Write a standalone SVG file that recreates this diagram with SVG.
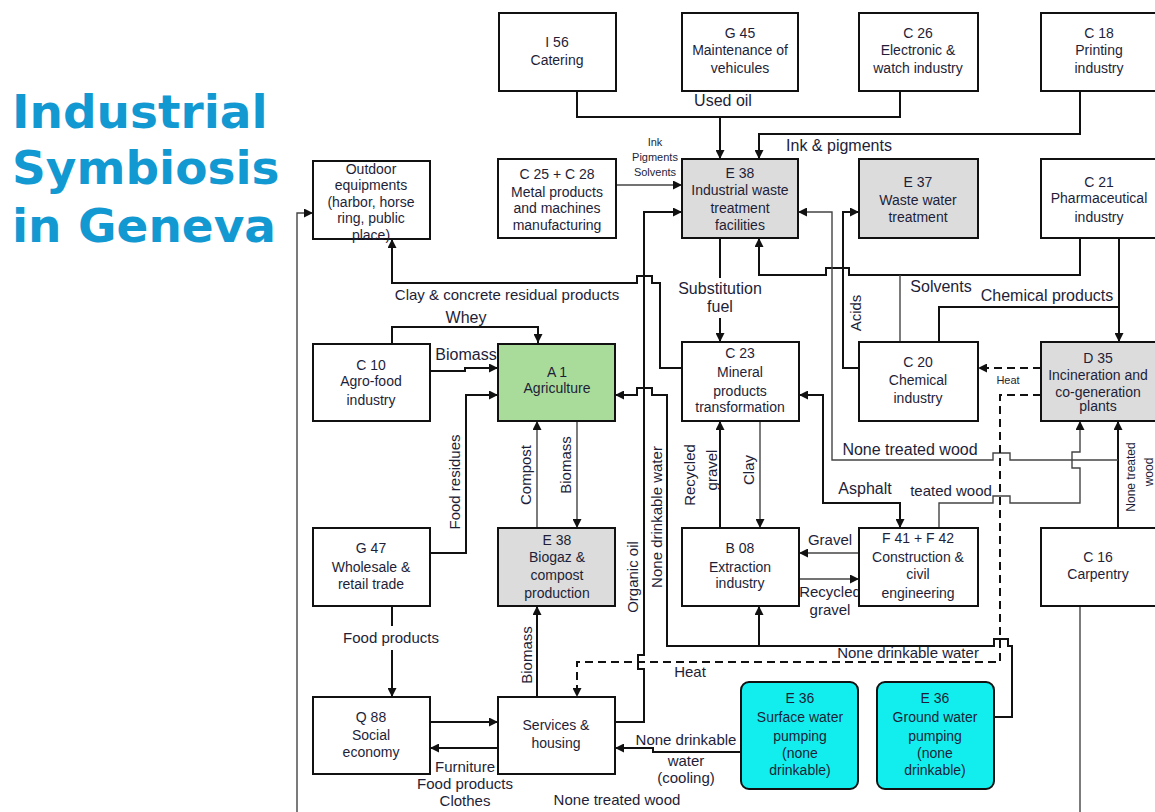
<svg xmlns="http://www.w3.org/2000/svg" width="1155" height="812" viewBox="0 0 1155 812">
<style>
  .box { fill: #fff; stroke: #111; stroke-width: 2; }
  .grey { fill: #dcdcdc; }
  .green { fill: #a9dc9a; }
  .cyan { fill: #12eeee; }
  .nt { font-family: "Liberation Sans", Arial, sans-serif; font-size: 14px; fill: #1e1e38; text-anchor: middle; }
  .lb { font-family: "Liberation Sans", Arial, sans-serif; font-size: 16px; fill: #1e1e38; text-anchor: middle; }
  .lm { font-family: "Liberation Sans", Arial, sans-serif; font-size: 15px; fill: #1e1e38; text-anchor: middle; }
  .ls { font-family: "Liberation Sans", Arial, sans-serif; font-size: 11px; fill: #1e1e38; text-anchor: middle; }
  .w { fill: none; stroke: #111; stroke-width: 2; }
  .t { fill: none; stroke: #444; stroke-width: 1.4; }
  .d { fill: none; stroke: #111; stroke-width: 2; stroke-dasharray: 8 5; }
  .arr { marker-end: url(#ah); }
  .title { font-family: "DejaVu Sans", Verdana, sans-serif; font-weight: bold; font-size: 47px; fill: #1299d2; }
</style>
<defs>
  <marker id="ah" viewBox="0 0 10 10" refX="10" refY="5" markerWidth="11" markerHeight="9" markerUnits="userSpaceOnUse" orient="auto-start-reverse">
    <path d="M0,0 L10,5 L0,10 z" fill="#111"/>
  </marker>
</defs>
<rect width="1155" height="812" fill="#fff"/>

<!-- heading -->
<g id="title">
  <text class="title" x="12" y="128">Industrial</text>
  <text class="title" x="12" y="184">Symbiosis</text>
  <text class="title" x="12" y="242">in Geneva</text>
</g>

<!-- flows between activities -->
<g id="connectors">
  <!-- used oil collector -->
  <path class="w" d="M577,91 V117 H900 V91"/>
  <path class="w arr" d="M720,117 V159"/>
  <!-- ink & pigments -->
  <path class="w arr" d="M1080,91 V134 H759 V159"/>
  <!-- ink / pigments / solvents -->
  <path class="t arr" d="M616,185 H682"/>
  <!-- organic oil -->
  <path class="w arr" d="M615,722 H644 V669 H638 V655 H644 V212 H682"/>
  <!-- clay & concrete residual products -->
  <path class="w arr" d="M682,368 H660 V283 H652 V276 H637 V283 H392 V239"/>
  <!-- substitution fuel -->
  <path class="w" d="M720,238 V278"/>
  <path class="w arr" d="M720,318 V342"/>
  <!-- solvents -->
  <path class="w arr" d="M1080,238 V275 H849 V268 H826 V275 H759 V238"/>
  <path class="t" d="M900,342 V275"/>
  <!-- chemical products -->
  <path class="w" d="M939,342 V307 H1119"/>
  <path class="w arr" d="M1119,238 V342"/>
  <!-- acids -->
  <path class="w arr" d="M859,368 H843 V212 H859"/>
  <!-- none treated wood -->
  <path class="w arr" d="M1118,528 V421"/>
  <path class="t arr" d="M1118,460 H1010 V453 H993 V460 H832 V212 H798"/>
  <!-- treated wood -->
  <path class="t arr" d="M939,528 V503 H993 V496 H1010 V503 H1080 V468 H1072 V452 H1080 V421"/>
  <!-- asphalt -->
  <path class="w" d="M799,395 H823 V503 H900 V528" marker-start="url(#ah)" marker-end="url(#ah)"/>
  <!-- heat -->
  <path class="d arr" d="M1041,368 H978"/>
  <path class="d arr" d="M1041,395 H1000 V662 H577 V697"/>
  <!-- none drinkable water -->
  <path class="w arr" d="M994,717 H1012 V646 H1008 V639 H994 V646 H667 V395 H652 V388 H637 V395 H615"/>
  <path class="w arr" d="M759,646 V606"/>
  <path class="w arr" d="M741,752 H653 V748 H615"/>
  <!-- food residues, biomass, whey -->
  <path class="w arr" d="M430,553 H466 V395 H498"/>
  <path class="w arr" d="M430,371 H465 V368 H498"/>
  <path class="w arr" d="M392,343 V327 H538 V343"/>
  <!-- compost / biomass -->
  <path class="t arr" d="M537,528 V421"/>
  <path class="t arr" d="M577,421 V528"/>
  <path class="w arr" d="M537,697 V606"/>
  <!-- food products -->
  <path class="w" d="M392,606 V626"/>
  <path class="w arr" d="M392,650 V697"/>
  <!-- social economy exchanges -->
  <path class="w arr" d="M430,722 H498"/>
  <path class="w arr" d="M498,748 H430"/>
  <!-- recycled gravel / clay -->
  <path class="w arr" d="M720,528 V421"/>
  <path class="t arr" d="M760,421 V528"/>
  <!-- gravel / recycled gravel -->
  <path class="t arr" d="M859,553 H799"/>
  <path class="t arr" d="M799,579 H859"/>
  <!-- wood towards outdoor equipments -->
  <path class="t" d="M1080,606 V812"/>
  <path class="t arr" d="M297,812 V213 H313"/>
</g>

<!-- flow labels -->
<g id="labels">
  <text class="lb" x="723" y="106">Used oil</text>
  <text class="lb" x="839" y="151">Ink &amp; pigments</text>
  <text class="ls" x="655" y="146">Ink</text>
  <text class="ls" x="655" y="161">Pigments</text>
  <text class="ls" x="655" y="176">Solvents</text>
  <text class="lb" x="720" y="294">Substitution</text>
  <text class="lb" x="720" y="312">fuel</text>
  <text class="lm" x="507" y="300">Clay &amp; concrete residual products</text>
  <text class="lb" x="466" y="323">Whey</text>
  <text class="lb" x="466" y="360">Biomass</text>
  <text class="lb" x="941" y="292">Solvents</text>
  <text class="lb" x="1047" y="301">Chemical products</text>
  <text class="lm" transform="translate(861,313) rotate(-90)">Acids</text>
  <text class="ls" x="1008" y="384">Heat</text>
  <text class="lb" x="910" y="455">None treated wood</text>
  <text class="lb" x="865" y="494">Asphalt</text>
  <text class="lm" x="951" y="496">teated wood</text>
  <text class="lm" transform="translate(1135,477) rotate(-90)" style="font-size:12px">None treated</text>
  <text class="lm" transform="translate(1153,472) rotate(-90)" style="font-size:12px">wood</text>
  <text class="lm" x="830" y="545">Gravel</text>
  <text class="lm" x="830" y="597">Recycled</text>
  <text class="lm" x="830" y="615">gravel</text>
  <text class="lm" x="908" y="658">None drinkable water</text>
  <text class="lm" x="690" y="677">Heat</text>
  <text class="lm" x="686" y="745">None drinkable</text>
  <text class="lm" x="686" y="766">water</text>
  <text class="lm" x="686" y="783">(cooling)</text>
  <text class="lm" x="391" y="643">Food products</text>
  <text class="lm" x="465" y="772">Furniture</text>
  <text class="lm" x="465" y="789">Food products</text>
  <text class="lm" x="465" y="806">Clothes</text>
  <text class="lm" x="617" y="805">None treated wood</text>
  <text class="lm" transform="translate(460,482) rotate(-90)">Food residues</text>
  <text class="lm" transform="translate(531,475) rotate(-90)">Compost</text>
  <text class="lm" transform="translate(571,465) rotate(-90)">Biomass</text>
  <text class="lm" transform="translate(532,655) rotate(-90)">Biomass</text>
  <text class="lm" transform="translate(638,577) rotate(-90)">Organic oil</text>
  <text class="lm" transform="translate(662,517) rotate(-90)">None drinkable water</text>
  <text class="lm" transform="translate(695,475) rotate(-90)">Recycled</text>
  <text class="lm" transform="translate(717,470) rotate(-90)">gravel</text>
  <text class="lm" transform="translate(754,470) rotate(-90)">Clay</text>
</g>

<!-- activities -->
<g id="i56"><rect class="box" x="499" y="13" width="117" height="78"/>
  <text class="nt" x="557" y="47">I 56</text><text class="nt" x="557" y="65">Catering</text></g>
<g id="g45"><rect class="box" x="682" y="13" width="116" height="78"/>
  <text class="nt" x="740" y="38">G 45</text><text class="nt" x="740" y="55">Maintenance of</text><text class="nt" x="740" y="73">vehicules</text></g>
<g id="c26"><rect class="box" x="859" y="13" width="119" height="78"/>
  <text class="nt" x="918" y="38">C 26</text><text class="nt" x="918" y="55">Electronic &amp;</text><text class="nt" x="918" y="73">watch industry</text></g>
<g id="c18"><rect class="box" x="1041" y="13" width="125" height="78"/>
  <text class="nt" x="1099" y="38">C 18</text><text class="nt" x="1099" y="55">Printing</text><text class="nt" x="1099" y="73">industry</text></g>

<g id="outdoor"><rect class="box" x="313" y="161" width="117" height="78"/>
  <text class="nt" x="371" y="174">Outdoor</text><text class="nt" x="371" y="190">equipments</text><text class="nt" x="371" y="207">(harbor, horse</text><text class="nt" x="371" y="223">ring, public</text><text class="nt" x="371" y="240">place)</text></g>
<g id="c25c28"><rect class="box" x="498" y="159" width="118" height="79"/>
  <text class="nt" x="557" y="179">C 25 + C 28</text><text class="nt" x="557" y="197">Metal products</text><text class="nt" x="557" y="213">and machines</text><text class="nt" x="557" y="230">manufacturing</text></g>
<g id="e38-waste"><rect class="box grey" x="682" y="159" width="116" height="79"/>
  <text class="nt" x="740" y="178">E 38</text><text class="nt" x="740" y="195">Industrial waste</text><text class="nt" x="740" y="213">treatment</text><text class="nt" x="740" y="230">facilities</text></g>
<g id="e37"><rect class="box grey" x="859" y="159" width="119" height="79"/>
  <text class="nt" x="918" y="187">E 37</text><text class="nt" x="918" y="205">Waste water</text><text class="nt" x="918" y="222">treatment</text></g>
<g id="c21"><rect class="box" x="1041" y="159" width="125" height="79"/>
  <text class="nt" x="1099" y="187">C 21</text><text class="nt" x="1099" y="203">Pharmaceutical</text><text class="nt" x="1099" y="222">industry</text></g>

<g id="c10"><rect class="box" x="313" y="344" width="117" height="77"/>
  <text class="nt" x="371" y="370">C 10</text><text class="nt" x="371" y="386">Agro-food</text><text class="nt" x="371" y="405">industry</text></g>
<g id="a1"><rect class="box green" x="498" y="344" width="117" height="77"/>
  <text class="nt" x="557" y="377">A 1</text><text class="nt" x="557" y="393">Agriculture</text></g>
<g id="c23"><rect class="box" x="682" y="342" width="117" height="79"/>
  <text class="nt" x="740" y="358">C 23</text><text class="nt" x="740" y="377">Mineral</text><text class="nt" x="740" y="396">products</text><text class="nt" x="740" y="412">transformation</text></g>
<g id="c20"><rect class="box" x="859" y="342" width="119" height="79"/>
  <text class="nt" x="918" y="367">C 20</text><text class="nt" x="918" y="385">Chemical</text><text class="nt" x="918" y="403">industry</text></g>
<g id="d35"><rect class="box grey" x="1041" y="342" width="125" height="79"/>
  <text class="nt" x="1098" y="363">D 35</text><text class="nt" x="1098" y="380">Incineration and</text><text class="nt" x="1098" y="397">co-generation</text><text class="nt" x="1098" y="411">plants</text></g>

<g id="g47"><rect class="box" x="313" y="528" width="117" height="78"/>
  <text class="nt" x="371" y="553">G 47</text><text class="nt" x="371" y="572">Wholesale &amp;</text><text class="nt" x="371" y="589">retail trade</text></g>
<g id="e38-biogaz"><rect class="box grey" x="498" y="528" width="117" height="78"/>
  <text class="nt" x="557" y="545">E 38</text><text class="nt" x="557" y="562">Biogaz &amp;</text><text class="nt" x="557" y="580">compost</text><text class="nt" x="557" y="598">production</text></g>
<g id="b08"><rect class="box" x="682" y="528" width="117" height="78"/>
  <text class="nt" x="740" y="553">B 08</text><text class="nt" x="740" y="572">Extraction</text><text class="nt" x="740" y="588">industry</text></g>
<g id="f41f42"><rect class="box" x="859" y="528" width="119" height="78"/>
  <text class="nt" x="918" y="543">F 41 + F 42</text><text class="nt" x="918" y="562">Construction &amp;</text><text class="nt" x="918" y="579">civil</text><text class="nt" x="918" y="598">engineering</text></g>
<g id="c16"><rect class="box" x="1041" y="528" width="125" height="78"/>
  <text class="nt" x="1098" y="562">C 16</text><text class="nt" x="1098" y="579">Carpentry</text></g>

<g id="q88"><rect class="box" x="313" y="697" width="117" height="77"/>
  <text class="nt" x="371" y="722">Q 88</text><text class="nt" x="371" y="740">Social</text><text class="nt" x="371" y="757">economy</text></g>
<g id="services"><rect class="box" x="498" y="697" width="117" height="77"/>
  <text class="nt" x="556" y="730">Services &amp;</text><text class="nt" x="556" y="748">housing</text></g>
<g id="e36-surface"><rect class="box cyan" x="741" y="682" width="117" height="107" rx="8"/>
  <text class="nt" x="800" y="703">E 36</text><text class="nt" x="800" y="722">Surface water</text><text class="nt" x="800" y="741">pumping</text><text class="nt" x="800" y="758">(none</text><text class="nt" x="800" y="775">drinkable)</text></g>
<g id="e36-ground"><rect class="box cyan" x="877" y="682" width="117" height="107" rx="8"/>
  <text class="nt" x="935" y="703">E 36</text><text class="nt" x="935" y="722">Ground water</text><text class="nt" x="935" y="741">pumping</text><text class="nt" x="935" y="758">(none</text><text class="nt" x="935" y="775">drinkable)</text></g>
</svg>
